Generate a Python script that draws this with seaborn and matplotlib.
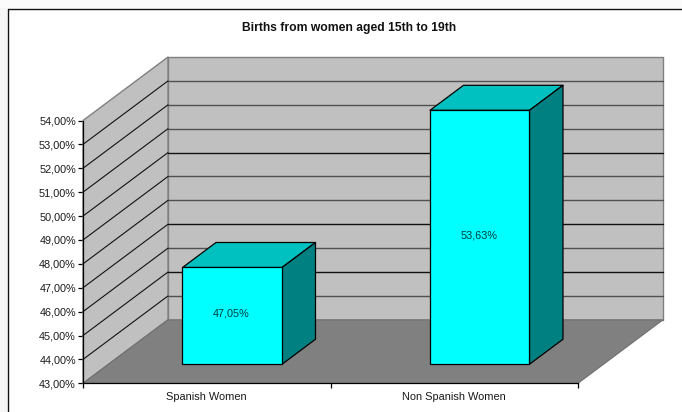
import matplotlib
matplotlib.use("Agg")
import matplotlib.pyplot as plt
from matplotlib.lines import Line2D
from matplotlib.patches import Polygon, Rectangle
import seaborn as sns

categories = ["Spanish Women", "Non Spanish Women"]
values = [47.05, 53.63]
value_labels = ["47,05%", "53,63%"]
y_ticks = list(range(43, 55))
y_tick_labels = [f"{v},00%" for v in y_ticks]
title = "Births from women aged 15th to 19th"

# oblique depth of the 3D box, expressed in data units
DX, DY = 0.3434, 2.657
BAR_D0, BAR_D1 = 0.3, 0.694
Y0, Y1 = 43, 54
X0, X1 = -0.5, 1.5

sns.set_style("white")
plt.rcParams["font.family"] = ["Liberation Sans", "DejaVu Sans"]
TXT = "#1a1a1a"

fig = plt.figure(figsize=(6.82, 4.12), dpi=100, facecolor="white")
ax = fig.add_axes([83 / 682, (412 - 383.3) / 412, 495 / 682, 262.8 / 412])
ax.patch.set_alpha(0)


def shift(x, y, d):
    return (x + DX * d, y + DY * d)


def poly(pts, fc, ec="none", lw=0.8, z=1):
    ax.add_patch(Polygon(pts, closed=True, facecolor=fc, edgecolor=ec,
                         linewidth=lw, zorder=z, clip_on=False, joinstyle="round"))


def line(xs, ys, color, lw=0.9, z=1.2):
    ax.add_line(Line2D(xs, ys, color=color, lw=lw, zorder=z, clip_on=False))


# bars first, so their container holds only the seaborn rectangles
sns.barplot(x=categories, y=values, color="#00ffff", saturation=1, width=0.402,
            edgecolor="black", linewidth=0.9, ax=ax, zorder=5)

# walls and floor
poly([shift(X0, Y0, 1), shift(X1, Y0, 1), shift(X1, Y1, 1), shift(X0, Y1, 1)],
     "#c0c0c0", "#808080", 1.0)
poly([(X0, Y0), shift(X0, Y0, 1), shift(X0, Y1, 1), (X0, Y1)],
     "#c0c0c0", "#808080", 1.0)

# gridlines
for v in y_ticks[1:-1]:
    c = "#111111" if v in (45, 47, 50) else "#505050"
    bx0, by = shift(X0, v, 1)
    bx1, _ = shift(X1, v, 1)
    line([bx0, bx1], [by, by], c, 1.0)
    line([X0, bx0], [v, by], "#111111", 0.8)

poly([(X0, Y0), (X1, Y0), shift(X1, Y0, 1), shift(X0, Y0, 1)],
     "#808080", "#707070", 0.8, z=1.5)

for rect, val, lab in zip(list(ax.containers[0]), values, value_labels):
    w = rect.get_width()
    xl, yb = shift(rect.get_x(), Y0, BAR_D0)
    yt = val + DY * BAR_D0
    rect.set_x(xl)
    rect.set_y(yb)
    rect.set_height(yt - yb)
    rect.set_clip_on(False)
    xr = xl + w
    ddx = DX * (BAR_D1 - BAR_D0)
    ddy = DY * (BAR_D1 - BAR_D0)
    poly([(xl, yt), (xr, yt), (xr + ddx, yt + ddy), (xl + ddx, yt + ddy)],
         "#00c0c0", "black", 0.9, z=4)
    poly([(xr, yb), (xr + ddx, yb + ddy), (xr + ddx, yt + ddy), (xr, yt)],
         "#008080", "black", 0.9, z=4)
    ax.text(xl + w / 2 - 0.003, (yb + yt) / 2 + 0.08, lab, ha="center", va="center",
            fontsize=7.8, color="#003c3c", zorder=6)

# axes
ax.set_xlim(X0, X1)
ax.set_ylim(Y0, Y1)
ax.set_yticks(y_ticks)
ax.set_yticklabels(y_tick_labels, fontsize=7.8, color=TXT)
ax.set_xticks([0, 1])
ax.set_xticklabels(categories, fontsize=7.9, color=TXT)
ax.set_xticks([-0.5, 0.5, 1.5], minor=True)
ax.tick_params(axis="y", which="major", left=True, length=3.6, width=0.9, color="black", pad=1.5)
ax.tick_params(axis="x", which="major", bottom=False, length=0, pad=6.5)
ax.tick_params(axis="x", which="minor", bottom=True, length=3.6, width=0.9, color="black")
for side in ("top", "right"):
    ax.spines[side].set_visible(False)
for side in ("left", "bottom"):
    ax.spines[side].set_visible(True)
    ax.spines[side].set_color("black")
    ax.spines[side].set_linewidth(0.9)
    ax.spines[side].set_zorder(2)

# chart frame and the pale strip outside it
fig.add_artist(Rectangle((0, 0), 7 / 682, 1, transform=fig.transFigure,
                         facecolor="#f6f6f6", edgecolor="none"))
fig.add_artist(Rectangle((0, 1 - 8 / 412), 1, 8 / 412, transform=fig.transFigure,
                         facecolor="#fbfbfb", edgecolor="none"))
fig.add_artist(Line2D([7.5 / 682, 7.5 / 682], [0, 1 - 8.5 / 412], color="#111111", lw=1.0,
                      transform=fig.transFigure))
fig.add_artist(Line2D([7.5 / 682, 1], [1 - 8.5 / 412, 1 - 8.5 / 412], color="#111111", lw=1.0,
                      transform=fig.transFigure))

fig.text(349.5 / 682, 1 - 28.5 / 412, title, ha="center", va="center",
         fontsize=8.7, fontweight="bold", color="#111111")

fig.savefig("out.png", dpi=100, facecolor=fig.get_facecolor())
